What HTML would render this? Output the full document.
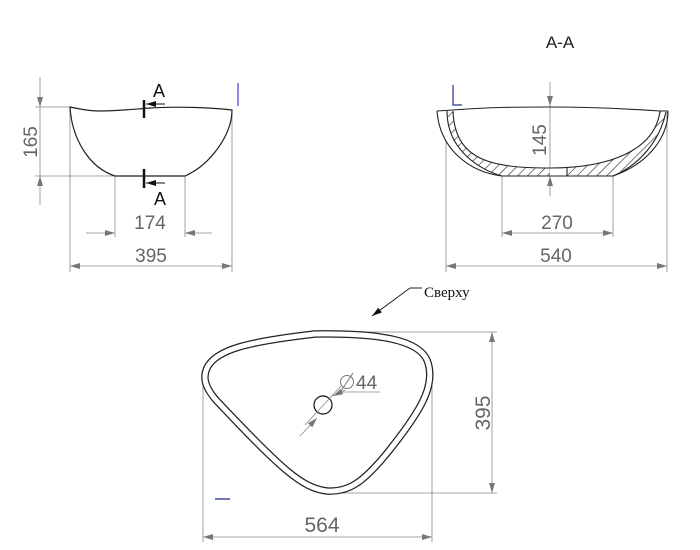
<!DOCTYPE html>
<html><head><meta charset="utf-8"><style>html,body{margin:0;padding:0;background:#fff}svg{display:block}</style></head>
<body>
<svg width="700" height="550" viewBox="0 0 700 550" xmlns="http://www.w3.org/2000/svg" font-family="Liberation Sans, sans-serif">
<defs>
<marker id="ar" viewBox="0 0 10 6" refX="10" refY="3" markerWidth="10" markerHeight="6" orient="auto-start-reverse" markerUnits="userSpaceOnUse"><path d="M0,0 L10,3 L0,6 Z" fill="#777"/></marker>
<marker id="ak" viewBox="0 0 10 6" refX="10" refY="3" markerWidth="10" markerHeight="6" orient="auto" markerUnits="userSpaceOnUse"><path d="M0,0 L10,3 L0,6 Z" fill="#111"/></marker>
<pattern id="h" width="7" height="7" patternUnits="userSpaceOnUse" patternTransform="rotate(45)"><line x1="0" y1="0" x2="0" y2="7" stroke="#222" stroke-width="1.2"/></pattern>
<clipPath id="hc"><path d="M447,111 C447,150 480,170 502,176 L613,176 C640,165 660,140 666,112 L660,112 C655,150 610,168 550,168 C490,168 455,160 453,111 Z"/></clipPath>
</defs>

<text x="560" y="48" font-size="17" text-anchor="middle" fill="#222">A-A</text>

<!-- left view -->
<g fill="none" stroke="#888" stroke-width="0.8">
<line x1="35" y1="107" x2="70" y2="107"/><line x1="35" y1="176" x2="115" y2="176"/>
<line x1="40" y1="77" x2="40" y2="107" marker-end="url(#ar)"/><line x1="40" y1="107" x2="40" y2="176"/><line x1="40" y1="205" x2="40" y2="176" marker-end="url(#ar)"/>
<line x1="115" y1="176" x2="115" y2="237"/><line x1="185" y1="176" x2="185" y2="237"/>
<line x1="86" y1="233" x2="115" y2="233" marker-end="url(#ar)"/><line x1="212" y1="233" x2="185" y2="233" marker-end="url(#ar)"/>
<line x1="70" y1="107" x2="70" y2="272"/><line x1="232" y1="110" x2="232" y2="272"/>
<line x1="70" y1="266" x2="232" y2="266" marker-start="url(#ar)" marker-end="url(#ar)"/>
</g>
<path d="M70,107 C80,109 88,111 100,111 C120,111 135,109 150,108 C180,106 215,108 232,110 C232,135 210,165 185,176 L115,176 C90,168 72,140 70,107 Z" fill="none" stroke="#222" stroke-width="1.2"/>
<g stroke="#111">
<line x1="144" y1="100" x2="144" y2="118" stroke-width="2.5"/>
<line x1="165" y1="104" x2="146" y2="104" stroke-width="1" marker-end="url(#ak)"/>
<line x1="144" y1="169" x2="144" y2="188" stroke-width="2.5"/>
<line x1="165" y1="183" x2="146" y2="183" stroke-width="1" marker-end="url(#ak)"/>
</g>
<text x="159" y="97" font-size="18" text-anchor="middle" fill="#111">A</text>
<text x="160" y="205" font-size="18" text-anchor="middle" fill="#111">A</text>
<line x1="238" y1="83" x2="238" y2="106" stroke="#6666cc" stroke-width="1.5"/>
<g font-size="19" fill="#666" text-anchor="middle">
<text x="150" y="229">174</text><text x="151" y="262">395</text>
<text transform="translate(37,142) rotate(-90)">165</text>
<text x="557" y="229">270</text><text x="556" y="262">540</text>
<text transform="translate(546,140) rotate(-90)">145</text>
<text transform="translate(490,413) rotate(-90)" font-size="21">395</text>
<text x="322" y="532" font-size="21">564</text>
<text x="356" y="389" font-size="19" text-anchor="start">44</text>
</g>
<circle cx="347" cy="382" r="6.5" fill="none" stroke="#777" stroke-width="1"/>
<line x1="341" y1="391" x2="353" y2="373" stroke="#777" stroke-width="1"/>

<!-- right view -->
<g fill="none" stroke="#888" stroke-width="0.8">
<line x1="502" y1="176" x2="502" y2="237"/><line x1="613" y1="176" x2="613" y2="237"/>
<line x1="502" y1="233" x2="613" y2="233" marker-start="url(#ar)" marker-end="url(#ar)"/>
<line x1="446" y1="140" x2="446" y2="272"/><line x1="667" y1="112" x2="667" y2="272"/>
<line x1="446" y1="266" x2="667" y2="266" marker-start="url(#ar)" marker-end="url(#ar)"/>
<line x1="550" y1="82" x2="550" y2="106" marker-end="url(#ar)"/><line x1="550" y1="106" x2="550" y2="176"/><line x1="550" y1="196" x2="550" y2="176" marker-end="url(#ar)"/>
</g>
<rect x="440" y="100" width="230" height="80" fill="url(#h)" clip-path="url(#hc)"/>
<rect x="550" y="166" width="17" height="9.5" fill="#fff"/>
<g fill="none" stroke="#222" stroke-width="1.1">
<path d="M437,111 C440,150 470,172 502,176 L613,176 C645,165 668,140 668,111"/>
<path d="M437,111 L453,110 C490,107 520,107 550,107 C590,107 630,109 660,111 L668,111"/>
<path d="M447,111 C447,150 480,170 502,176"/>
<path d="M453,111 C455,160 490,168 550,168 C610,168 655,150 660,111"/>
<path d="M613,176 C640,165 660,140 666,112"/>
<line x1="567" y1="168" x2="567" y2="176"/>
</g>
<path d="M453,85 L453,105 L462,105" fill="none" stroke="#223388" stroke-width="1.2"/>

<!-- top view -->
<g fill="none" stroke="#888" stroke-width="0.8">
<line x1="315" y1="332" x2="497" y2="332"/><line x1="330" y1="493" x2="497" y2="493"/>
<line x1="492" y1="332" x2="492" y2="493" marker-start="url(#ar)" marker-end="url(#ar)"/>
<line x1="203" y1="375" x2="203" y2="542"/><line x1="432" y1="385" x2="432" y2="542"/>
<line x1="203" y1="537" x2="432" y2="537" marker-start="url(#ar)" marker-end="url(#ar)"/>
<line x1="300" y1="436" x2="317" y2="418" marker-end="url(#ar)"/>
<line x1="345" y1="390" x2="333" y2="396" marker-end="url(#ar)"/>
<line x1="340" y1="392" x2="380" y2="392"/>
</g>
<path d="M208,366 C218,350 245,342 315,334 C380,333 418,340 427,360 C437,385 420,412 388,452 C362,484 348,492 327,491 C302,488 282,470 216,400 C203,385 203,375 208,366 Z" fill="none" stroke="#222" stroke-width="7.5"/>
<path d="M208,366 C218,350 245,342 315,334 C380,333 418,340 427,360 C437,385 420,412 388,452 C362,484 348,492 327,491 C302,488 282,470 216,400 C203,385 203,375 208,366 Z" fill="none" stroke="#fff" stroke-width="5"/>
<circle cx="323" cy="405" r="9" fill="none" stroke="#111" stroke-width="1.2"/>
<line x1="305" y1="425" x2="341" y2="386" stroke="#888" stroke-width="0.8"/>
<line x1="215" y1="499" x2="230" y2="499" stroke="#223388" stroke-width="1.3"/>

<path d="M422,288 L410,288" stroke="#222" stroke-width="1" fill="none"/>
<line x1="410" y1="288" x2="372" y2="316" stroke="#222" stroke-width="1" marker-end="url(#ak)"/>
<text x="424" y="297" font-family="Liberation Serif, serif" font-size="15" fill="#111">Сверху</text>
</svg>
</body></html>
